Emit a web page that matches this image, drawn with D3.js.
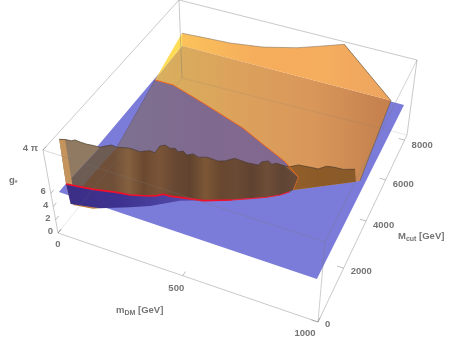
<!DOCTYPE html>
<html><head><meta charset="utf-8"><script src="https://d3js.org/d3.v7.min.js"></script></head>
<body style="margin:0;background:#fff"><svg id="chart" width="455" height="338" style="display:block;filter:blur(0.35px)"></svg>
<script>
// values (m in GeV, Mcut in GeV, g)
var G_MAX = 4 * Math.PI, G_PLANE = 6, G_LOW = 3;
var mTicks = [0, 500, 1000];
var cutTicks = [0, 2000, 4000, 6000, 8000];
var gTicks = [0, 2, 4, 6, G_MAX];
var gLabels = ["0", "2", "4", "6", "4 \u03c0"];

// the flat blue plane g = 6
var planeM = [21, 979, 982, 22];
var planeCut = [140, 110, 7900, 8010];

// jagged cut of the orange surface at g = 4 pi
var wallM = [19,36,59,67,87,112,134,159,171,188,209,228,251,270,290,303,318,338,337,351,374,389,407,421,441,459,482,508,527,549,569,580,593,615,636,675,679,697,714,727,757,773,796,815,836,864,885,913,942,979];
var wallCut = [570,630,660,730,710,710,740,750,850,960,940,1000,1050,1050,1040,1120,1190,1170,1460,1550,1490,1550,1460,1540,1440,1550,1490,1580,1580,1570,1650,1750,1840,1830,1820,1860,2000,2120,2030,2130,2120,2150,2320,2340,2370,2400,2600,2650,2670,2810];

// red intersection of the surface with the plane
var redM = [22,78,119,160,199,247,313,334,352,377,437,496,582,626,686,724,749];
var redCut = [510,580,640,720,800,860,1050,1140,1260,1270,1380,1480,1810,2010,2310,2560,2800];

// orange edge of the surface on the plane, back side
var edgeM = [27,105,193,261,360,466,579,677,750,757];
var edgeCut = [5950,5950,5690,5490,5180,4850,4330,3900,3450,2900];

// remaining outline points on the plane
var rightM = [948, 960, 926];
var rightCut = [3930, 4020, 7950];
var sideM = [86, 83];
var sideCut = [2470, 580];

// curve along the back wall
var backM = [24,127,238,384,530,621,712];
var backCut = [8000,8000,8000,8000,8000,8000,8100];
var backG = [8.1,8.3,8.5,9.2,10.5,11.7,G_MAX];

// underside of the surface, below the plane
var lowM = [27,130,224,286,373];
var lowCut = [520,710,1090,1360,1870];
var underM = [30,37,109,130];
var underCut = [710,510,610,710];

// brown shading across the wall, left to right
var wallShade = ["#6f4f38","#85603f","#6b4930","#7a5438","#684832","#60432f","#7d5736","#67472f","#6b4a33","#5f4231","#6e4d36","#5f4434","#6a4a38"];

// box corners on the page: key is m, Mcut, g (0 low, 1 high)
var corner = {"000":[58,233],"100":[318,322],"010":[182,78],"110":[407,135],"001":[43,150],"101":[325,242],"011":[179,0],"111":[417,60]};

var mScale = d3.scaleLinear().domain([0,500,1000]).range([0,.48,1]);
var cutScale = d3.scaleLinear().domain([0,2000,4000,6000,8000,8200]).range([0,.288,.54,.76,.973,1]);
var gScale = d3.scaleLinear().domain([0,G_MAX]).range([0,1]);
var CUT_MAX = 8200;

function project(m, cut, g) {
	var u = mScale(m), v = cutScale(cut), w = gScale(g), o = [0,0];
	for (var a = 0; a < 2; a++) for (var b = 0; b < 2; b++) for (var c = 0; c < 2; c++) {
		var k = (a ? u : 1-u) * (b ? v : 1-v) * (c ? w : 1-w), p = corner["" + a + b + c];
		o[0] += k * p[0];
		o[1] += k * p[1];
	}
	return o;
}
function pts(ms, cuts, g) {
	return ms.map(function(m, i) { return project(m, cuts[i], Array.isArray(g) ? g[i] : g); });
}
var svg = d3.select("#chart");
var line = d3.line();
function poly(points, fill) {
	return svg.append("path").attr("d", line(points) + "Z").attr("fill", fill);
}
function stroke(points, col, w) {
	return svg.append("path").attr("d", line(points)).attr("fill", "none").attr("stroke", col).attr("stroke-width", w).attr("stroke-linejoin", "round");
}
function gradient(id, x1, x2, cols) {
	var g = svg.append("defs").append("linearGradient").attr("id", id).attr("gradientUnits", "userSpaceOnUse")
		.attr("x1", x1).attr("x2", x2).attr("y1", 0).attr("y2", 0);
	cols.forEach(function(c, i) { g.append("stop").attr("offset", i / (cols.length - 1)).attr("stop-color", c); });
	return "url(#" + id + ")";
}

var wall = pts(wallM, wallCut, G_MAX);
var red = pts(redM, redCut, G_PLANE);
var edge = pts(edgeM, edgeCut, G_PLANE);
var right = pts(rightM, rightCut, G_PLANE);
var side = pts(sideM, sideCut, G_PLANE);
var back = pts(backM, backCut, backG);
var low = pts(lowM, lowCut, G_LOW);
var plane = pts(planeM, planeCut, G_PLANE);
var backLeft = plane[3];

// blue plane
poly(plane, "#7b7bd9");
// orange below the back edge of the plane
poly([backLeft, right[2], right[1], right[0]].concat(edge.slice().reverse()), gradient("lowerOrange", 155, 390, ["#d8b05e","#dca25c","#d9975a","#c47f4d"]));
// orange above the plane
poly(back.concat([right[2], backLeft]), gradient("upperOrange", 182, 391, ["#fbc25a","#f6ae5c","#f5ad5e","#eda45f"]));
poly([back[0], backLeft, edge[0]], "#ffdc58");
stroke(back, "#8a7a66", .6);
stroke([back[6], right[2], right[1]], "#6b5a48", .7);
// purple: surface seen through the plane
poly(edge.slice(0, 9).concat(wall.slice(10, 41).reverse()), gradient("purple", 117, 298, ["#7d7190","#80698f","#82688e"]));
// wall left of the plane edge
poly(wall.slice(0, 8).concat([red[0]]), "#907a62");
poly(wall.slice(7, 11).concat([side[1], red[0]]), "#6c5c54");
// striped brown wall
poly(wall.slice(10, 41).concat([edge[8], edge[9]]).concat(red.slice(1).reverse()), gradient("wallBrown", 113, 298, wallShade));
// wall right of the orange edge
poly(wall.slice(40).concat([right[0], edge[9], edge[8]]), gradient("rightBrown", 285, 356, ["#94602a","#8b5a27","#8a5a2a"]));
// orange side sliver
poly([wall[0], wall[1], project(30, 710, G_LOW), low[0], red[0]], "#c5945c");
// below the plane
poly(pts(underM, underCut, G_LOW), "#c2813e");
poly(red.slice(0, 13).concat(low.slice().reverse()), gradient("under", 66, 232, ["#3a2e86","#3d3290","#5047a4","#6a64c4"]));

stroke(wall, "#4a3a2c", .7);
stroke(edge.slice(0, 9), "#f0691f", 1);
stroke(edge.slice(8), "#e0641f", .7);
stroke([edge[0], side[0]], "#5a4c60", .4);
stroke(red.slice(0, 13), "#f0102c", 1.7);
stroke(red.slice(12), "#e8203c", 1.1);

// box, last number is how strong the edge shows
var boxEdges = [[0,0,0,1000,0,0,.5],[0,0,0,0,CUT_MAX,0,.22],[1000,0,0,1000,CUT_MAX,0,.5],[0,CUT_MAX,0,1000,CUT_MAX,0,.22],
	[0,0,G_MAX,1000,0,G_MAX,.35],[0,0,G_MAX,0,CUT_MAX,G_MAX,.5],[1000,0,G_MAX,1000,CUT_MAX,G_MAX,.4],[0,CUT_MAX,G_MAX,1000,CUT_MAX,G_MAX,.5],
	[0,0,0,0,0,G_MAX,.5],[1000,0,0,1000,0,G_MAX,.45],[0,CUT_MAX,0,0,CUT_MAX,G_MAX,.5],[1000,CUT_MAX,0,1000,CUT_MAX,G_MAX,.5]];
boxEdges.forEach(function(e) {
	stroke([project(e[0],e[1],e[2]), project(e[3],e[4],e[5])], "#777", .8).attr("opacity", e[6]);
});

// ticks
mTicks.forEach(function(m) { stroke([project(m,0,0), project(m,170,0)], "#777", .8).attr("opacity", .6); });
cutTicks.forEach(function(c) { stroke([project(1000,c,0), project(975,c,0)], "#777", .8).attr("opacity", .6); });
gTicks.forEach(function(g) { stroke([project(0,0,g), project(0,170,g)], "#777", .8).attr("opacity", .6); });

function label(x, y, anchor) {
	return svg.append("text").attr("x", x).attr("y", y).attr("text-anchor", anchor)
		.style("font-family", "'Liberation Sans', sans-serif").style("font-size", "9.5px").style("font-weight", "bold").style("fill", "#747474");
}
gTicks.forEach(function(g, i) {
	var p = project(0,0,g);
	label(p[0]-5, p[1]+1, "end").text(gLabels[i]);
});
mTicks.forEach(function(m) {
	var p = project(m,0,0);
	label(p[0] - m * .013, p[1] + 14 + (m == 500 ? 1.5 : 0), "middle").text(m);
});
cutTicks.forEach(function(c) {
	var p = project(1000,c,0);
	label(p[0] + 7, p[1] + 5 + c / 2500, "start").text(c);
});
function title(x, y, main, sub, rest) {
	var t = label(x, y, "start");
	t.append("tspan").text(main);
	t.append("tspan").attr("dy", 2).style("font-size", "7px").text(sub);
	if (rest) t.append("tspan").attr("dy", -2).text(rest);
}
title(9, 183, "g", "*");
title(116, 313, "m", "DM", " [GeV]");
title(398, 239, "M", "cut", " [GeV]");
</script></body></html>
